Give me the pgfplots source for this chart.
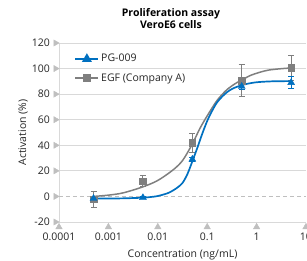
\documentclass[border=0pt]{standalone}
\usepackage{fontspec}
\setmainfont{Open Sans}
\usepackage{pgfplots}
\pgfplotsset{compat=1.18}
\definecolor{pgblue}{HTML}{0070C0}
\definecolor{egfgray}{HTML}{7F7F7F}
\definecolor{gridgray}{HTML}{D9D9D9}
\definecolor{tickgray}{HTML}{BFBFBF}
\definecolor{txt}{HTML}{262626}
\begin{document}
\begin{tikzpicture}
\useasboundingbox (-59pt,-39pt) rectangle (248pt,222pt);
\clip (-59pt,-39pt) rectangle (248pt,222pt);
\begin{axis}[
  at={(0pt,0pt)}, anchor=south west,
  scale only axis, width=247pt, height=179pt,
  xmode=log, log basis x=10,
  xmin=0.0001, xmax=10, ymin=-20, ymax=120,
  clip=false,
  axis x line*=bottom, axis y line*=left,
  axis line style={draw=gridgray, line width=0.8pt, -},
  xtick={0.0001,0.001,0.01,0.1,1,10},
  xticklabels={0.0001,0.001,0.01,0.1,1,10},
  ytick={-20,20,40,60,80,100,120},
  extra y ticks={0},
  extra y tick style={ymajorgrids, major grid style={draw=tickgray, dash pattern=on 4pt off 3pt, line width=0.8pt}},
  ymajorgrids, major grid style={draw=gridgray, line width=0.8pt},
  major tick length=0pt, minor tick length=0pt,
  tick label style={font=\fontsize{10.5}{12}\selectfont, text=txt},
  /pgf/number format/assume math mode=true,
  yticklabel style={xshift=-5.7pt},
  xticklabel style={yshift=-7pt},
  title={Proliferation assay\\VeroE6 cells},
  title style={at={(0.4534,1)}, anchor=south, yshift=5pt, align=center,
    font=\bfseries\fontsize{10.5}{12}\selectfont, text=black},
  xlabel={Concentration (ng/mL)},
  xlabel style={at={(axis description cs:0.5,0)}, anchor=center, yshift=-33pt,
    font=\fontsize{10.5}{12}\selectfont, text=txt},
  ylabel={Activation (\%)},
  ylabel style={at={(axis description cs:-0.145,0.5)}, anchor=center, rotate=0,
    font=\fontsize{10.5}{12}\selectfont, text=txt},
  legend style={at={(0.05,0.96)}, anchor=north west, draw=none, fill=none,
    font=\fontsize{10.5}{12}\selectfont, text=txt, row sep=6pt},
  legend cell align=left,
  legend image code/.code={\draw[#1, mark repeat=2, mark phase=2] plot coordinates {(0pt,0pt)(11.5pt,0pt)(23pt,0pt)};},
]
% tick triangles
\addplot[only marks, mark=triangle*, mark size=3.8pt, color=tickgray,
  mark options={yshift=-5.1pt}, forget plot]
  coordinates {(0.0001,-20)(0.001,-20)(0.01,-20)(0.1,-20)(1,-20)(10,-20)};
\addplot[only marks, mark=triangle*, mark size=3.6pt, color=tickgray,
  mark options={xshift=-3.4pt, rotate=-90}, forget plot]
  coordinates {(0.0001,-20)(0.0001,0)(0.0001,20)(0.0001,40)(0.0001,60)(0.0001,80)(0.0001,100)(0.0001,120)};
% EGF curve
\addplot[egfgray, line width=1.5pt, smooth, forget plot] coordinates {
 (0.0005,0)(0.001,1)(0.002,2.8)(0.005,7.5)(0.01,12.5)(0.02,20.5)(0.0316,28)
 (0.05,41)(0.0708,53)(0.1,63)(0.158,75)(0.251,83.5)(0.398,89)(0.5,91)
 (0.794,95)(1.74,98.8)(5,100.5)};
% EGF points
\addplot[only marks, mark=square*, mark size=3.3pt, color=egfgray, forget plot,
  error bars/.cd, y dir=both, y explicit,
  error bar style={line width=1pt, color=egfgray},
  error mark options={rotate=90, mark size=3pt, line width=1pt, color=egfgray}]
  coordinates {
 (0.0005,-2.2) +- (0,6.3)
 (0.005,12) +- (0,4)
 (0.05,42) +- (0,7.5)
 (0.5,90.4) +- (0,12.5)
 (5,100.5) +- (0,10)};
% PG-009 curve
\addplot[pgblue, line width=1.7pt, smooth, forget plot] coordinates {
 (0.0005,-1.6)(0.001,-1.6)(0.002,-1.5)(0.005,-1)(0.007,-0.5)(0.01,0.3)
 (0.0158,2.5)(0.02,4.5)(0.0251,7)(0.0316,10.5)(0.0398,17.5)(0.0501,27.5)
 (0.0631,38)(0.0794,49)(0.1,59)(0.126,67)(0.158,73.5)(0.2,78)(0.251,81.5)
 (0.316,84)(0.398,85.7)(0.501,87)(0.631,88)(1,89.3)(2,90)(5,90.2)};
% PG-009 points
\addplot[only marks, mark=triangle*, mark size=4pt, color=pgblue, forget plot,
  error bars/.cd, y dir=both, y explicit,
  error bar style={line width=1pt, color=pgblue},
  error mark options={rotate=90, mark size=3pt, line width=1pt, color=pgblue}]
  coordinates {
 (0.0005,-1.6) +- (0,1)
 (0.005,-1) +- (0,0.8)
 (0.05,29) +- (0,1.5)
 (0.5,86) +- (0,2)
 (5,89) +- (0,4.5)};
\addlegendimage{pgblue, line width=1.7pt, mark=triangle*, mark size=4pt}
\addlegendentry{PG-009}
\addlegendimage{egfgray, line width=1.5pt, mark=square*, mark size=3.3pt}
\addlegendentry{EGF (Company A)}
\end{axis}
\end{tikzpicture}
\end{document}
